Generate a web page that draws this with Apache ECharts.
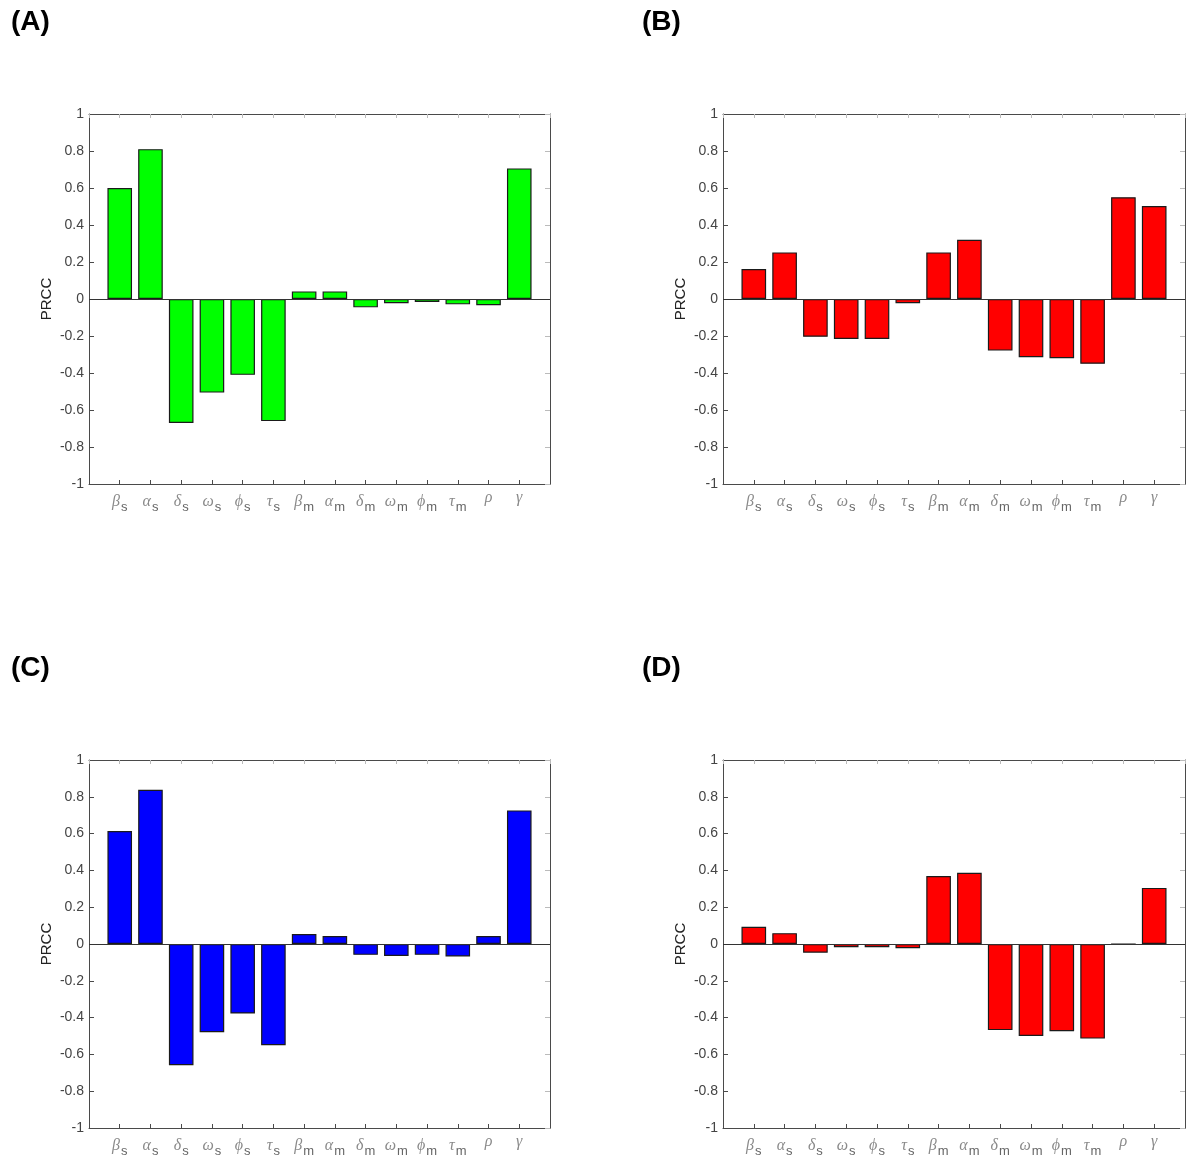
<!DOCTYPE html>
<html>
<head>
<meta charset="utf-8">
<script src="https://cdn.jsdelivr.net/npm/echarts@6/dist/echarts.min.js"></script>
<style>
html,body{margin:0;padding:0;background:#fff;}
#chart{width:1199px;height:1158px;}
</style>
</head>
<body>
<div id="chart"></div>
<script>
// Parameter names (greek symbol + subscript)
const paramSymbols = ['β','α','δ','ω','ϕ','τ','β','α','δ','ω','ϕ','τ','ρ','γ'];
const paramSubs    = ['s','s','s','s','s','s','m','m','m','m','m','m','',''];
const yTicks = [-1,-0.8,-0.6,-0.4,-0.2,0,0.2,0.4,0.6,0.8,1];

// PRCC values per panel
const prccA = [0.60, 0.81, -0.67, -0.506, -0.41, -0.66, 0.041, 0.041, -0.045, -0.023, -0.016, -0.029, -0.034, 0.706];
const prccB = [0.162, 0.252, -0.204, -0.216, -0.216, -0.023, 0.252, 0.32, -0.279, -0.315, -0.32, -0.35, 0.55, 0.503];
const prccC = [0.614, 0.838, -0.659, -0.479, -0.378, -0.55, 0.054, 0.043, -0.059, -0.065, -0.059, -0.068, 0.043, 0.726];
const prccD = [0.094, 0.059, -0.047, -0.018, -0.018, -0.023, 0.369, 0.387, -0.468, -0.50, -0.474, -0.514, 0.0, 0.305];

const panelLabels = ['(A)','(B)','(C)','(D)'];
const panelData = [prccA, prccB, prccC, prccD];
const panelColors = ['#00ff00','#ff0000','#0000ff','#ff0000'];

const grids = [
  {left: 89, top: 114, width: 461, height: 370},
  {left: 723, top: 114, width: 462, height: 370},
  {left: 89, top: 760, width: 461, height: 370},
  {left: 723, top: 760, width: 462, height: 370}
];
const titlePos = [
  {left: 11, top: 8}, {left: 642, top: 8}, {left: 11, top: 654}, {left: 642, top: 654}
];

const axisColor = '#4a4a4a';
const xAxes = [], yAxes = [], series = [], titles = [];

grids.forEach((g, k) => {
  titles.push({
    text: panelLabels[k], left: titlePos[k].left, top: titlePos[k].top, padding: 0,
    textStyle: {fontFamily: 'Liberation Sans, Arial', fontWeight: 'bold', fontSize: 28, color: '#000'}
  });
  // bottom x axis with labels
  xAxes.push({
    gridIndex: k, type: 'value', min: 0, max: 15, interval: 1, position: 'bottom',
    axisLine: {show: true, onZero: false, lineStyle: {color: axisColor, width: 1}},
    axisTick: {show: true, inside: true, length: 4, lineStyle: {color: axisColor}},
    splitLine: {show: false},
    axisLabel: {
      margin: 6,
      formatter: function (v) {
        const i = Math.round(v) - 1;
        if (i < 0 || i >= paramSymbols.length) return '';
        return '{g|' + paramSymbols[i] + '}' + (paramSubs[i] ? '{s|' + paramSubs[i] + '}' : '');
      },
      rich: {
        g: {fontFamily: 'Liberation Serif, Times New Roman', fontStyle: 'italic', fontSize: 16, color: '#8a8a8a'},
        s: {fontFamily: 'Liberation Sans, Arial', fontSize: 13, color: '#666', padding: [11, 0, 0, 1]}
      }
    }
  });
  // top x axis (box + ticks)
  xAxes.push({
    gridIndex: k, type: 'value', min: 0, max: 15, interval: 1, position: 'top',
    axisLine: {show: true, onZero: false, lineStyle: {color: axisColor, width: 1}},
    axisTick: {show: true, inside: true, length: 4, lineStyle: {color: '#bbbbbb'}},
    splitLine: {show: false},
    axisLabel: {show: false}
  });
  // left y axis
  yAxes.push({
    gridIndex: k, type: 'value', min: -1, max: 1, interval: 0.2, position: 'left',
    name: 'PRCC', nameLocation: 'middle', nameGap: 35, nameRotate: 90,
    nameTextStyle: {fontFamily: 'Liberation Sans, Arial', fontSize: 15, color: '#222'},
    axisLine: {show: true, onZero: false, lineStyle: {color: axisColor, width: 1}},
    axisTick: {show: true, inside: true, length: 5, lineStyle: {color: axisColor}},
    splitLine: {show: false},
    axisLabel: {
      margin: 5, fontFamily: 'Liberation Sans, Arial', fontSize: 14, color: '#444',
      formatter: function (v) { return String(parseFloat(v.toFixed(1))); }
    }
  });
  // right y axis (box + ticks)
  yAxes.push({
    gridIndex: k, type: 'value', min: -1, max: 1, interval: 0.2, position: 'right',
    axisLine: {show: true, onZero: false, lineStyle: {color: axisColor, width: 1}},
    axisTick: {show: true, inside: true, length: 5, lineStyle: {color: '#bbbbbb'}},
    splitLine: {show: false},
    axisLabel: {show: false}
  });
  series.push({
    type: 'bar',
    xAxisIndex: 2 * k, yAxisIndex: 2 * k,
    barWidth: '80%',
    data: panelData[k].map((v, i) => [i + 1, v]),
    itemStyle: {color: panelColors[k], borderColor: '#1a1a1a', borderWidth: 1.2},
    emphasis: {disabled: true},
    markLine: {
      silent: true, symbol: 'none', label: {show: false},
      lineStyle: {color: '#333', width: 1, type: 'solid'},
      data: [{yAxis: 0}]
    },
    animation: false
  });
});

const chart = echarts.init(document.getElementById('chart'), null, {renderer: 'canvas'});
chart.setOption({
  backgroundColor: '#ffffff',
  animation: false,
  title: titles,
  grid: grids,
  xAxis: xAxes,
  yAxis: yAxes,
  series: series
});
</script>
</body>
</html>
